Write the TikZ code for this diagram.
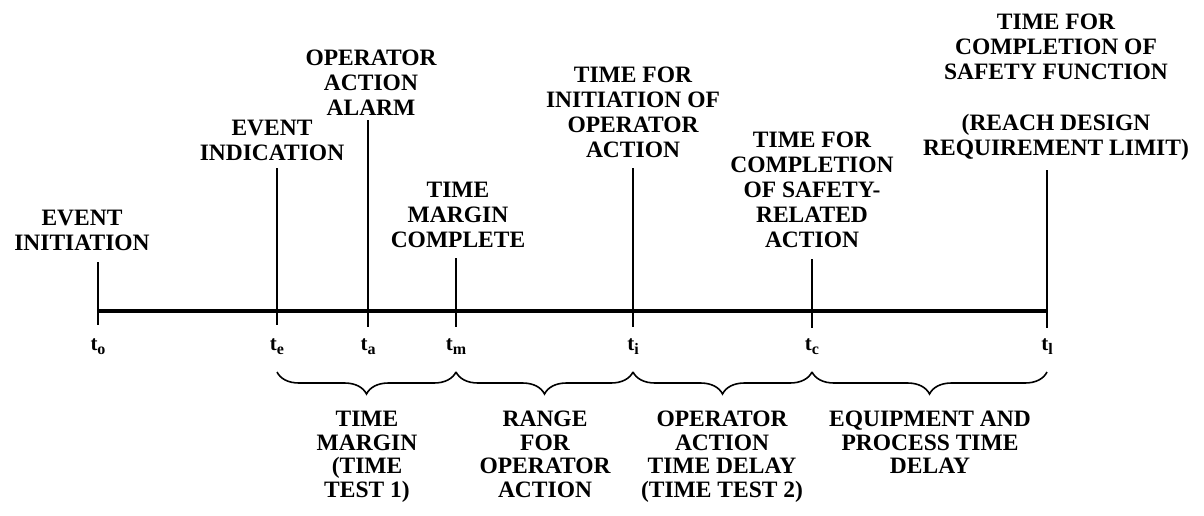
\documentclass[tikz,border=0pt]{standalone}
\usepackage{fontspec}
\setmainfont{Liberation Serif}
\usetikzlibrary{decorations.pathreplacing, positioning}
\newcommand{\tsub}[1]{t\raisebox{-0.5ex}{\fontsize{16}{16}\selectfont #1}}

\begin{document}
\begin{tikzpicture}[x=1pt, y=-1pt,
        lbl/.style={align=center, inner sep=0pt, font=\fontsize{23.5}{25}\selectfont\bfseries},
        spanlbl/.style={lbl, font=\fontsize{23.5}{23.5}\selectfont\bfseries},
        tlbl/.style={inner sep=0pt, font=\fontsize{21}{22}\selectfont\bfseries},
        tick/.style={line width=1.4pt},
        brc/.style={decorate, decoration={brace, mirror, amplitude=22pt}, line width=1.6pt}]
        \useasboundingbox (0,0) rectangle (1204,515);
        % points on the time axis
        \coordinate (to) at (98,311);
        \coordinate (te) at (277,311);
        \coordinate (ta) at (368,311);
        \coordinate (tm) at (456,311);
        \coordinate (ti) at (633,311);
        \coordinate (tc) at (812,311);
        \coordinate (tl) at (1047,311);
        \draw[line width=4pt] (to) -- (tl);
        % ticks
        \draw[tick] (98,262) -- (98,325);
        \draw[tick] (277,168) -- (277,325);
        \draw[tick] (368,120) -- (368,327);
        \draw[tick] (456,258) -- (456,327);
        \draw[tick] (633,168) -- (633,327);
        \draw[tick] (812,259) -- (812,328);
        \draw[tick] (1047,170) -- (1047,328);
        % events
        \node[lbl, anchor=south] (ev_o) at (82,251) {EVENT\\INITIATION};
        \node[lbl, anchor=south] (ev_e) at (272,161) {EVENT\\INDICATION};
        \node[lbl, anchor=south] (ev_a) at (371,116) {OPERATOR\\ACTION\\ALARM};
        \node[lbl, anchor=south] (ev_m) at (458,248) {TIME\\MARGIN\\COMPLETE};
        \node[lbl, anchor=south] (ev_i) at (633,158) {TIME FOR\\INITIATION OF\\OPERATOR\\ACTION};
        \node[lbl, anchor=south] (ev_c) at (812,248) {TIME FOR\\COMPLETION\\OF SAFETY-\\RELATED\\ACTION};
        \node[lbl, anchor=south] (ev_l) at (1056,161) {TIME FOR\\COMPLETION OF\\SAFETY FUNCTION\\[26pt](REACH DESIGN\\REQUIREMENT LIMIT)};
        % times
        \node[tlbl, anchor=north, below=27pt of to] (lt_o) {\tsub{o}};
        \node[tlbl, anchor=north, below=27pt of te] (lt_e) {\tsub{e}};
        \node[tlbl, anchor=north, below=27pt of ta] (lt_a) {\tsub{a}};
        \node[tlbl, anchor=north, below=27pt of tm] (lt_m) {\tsub{m}};
        \node[tlbl, anchor=north, below=27pt of ti] (lt_i) {\tsub{i}};
        \node[tlbl, anchor=north, below=27pt of tc] (lt_c) {\tsub{c}};
        \node[tlbl, anchor=north, below=27pt of tl] (lt_l) {\tsub{l}};
        % spans
        \draw[brc] (277,372) -- (456,372);
        \draw[brc] (456,372) -- (633,372);
        \draw[brc] (633,372) -- (812,372);
        \draw[brc] (812,372) -- (1047,372);
        \node[spanlbl, anchor=north] (sp_1) at (367,411) {TIME\\MARGIN\\(TIME\\TEST 1)};
        \node[spanlbl, anchor=north] (sp_2) at (545,411) {RANGE\\FOR\\OPERATOR\\ACTION};
        \node[spanlbl, anchor=north] (sp_3) at (722,411) {OPERATOR\\ACTION\\TIME DELAY\\(TIME TEST 2)};
        \node[spanlbl, anchor=north] (sp_4) at (930,411) {EQUIPMENT AND\\PROCESS TIME\\DELAY};
    \end{tikzpicture}
\end{document}
